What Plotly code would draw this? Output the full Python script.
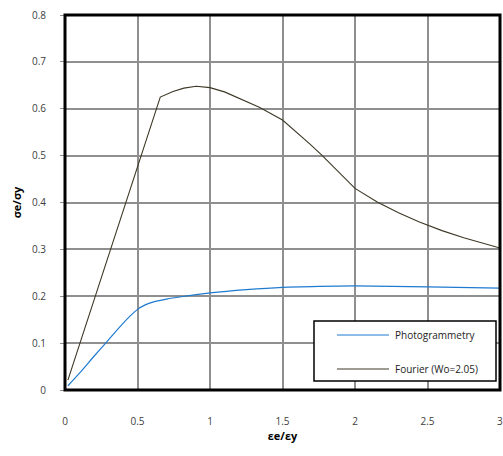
import plotly.graph_objects as go

# Normalised strain (εe/εy) and stress (σe/σy) readings for each method
photo_x = [0.02, 0.1, 0.2, 0.3, 0.4, 0.45, 0.5, 0.55, 0.6, 0.7, 0.8, 1.0, 1.25, 1.5, 1.75, 2.0, 2.5, 3.0]
photo_y = [0.009, 0.036, 0.072, 0.107, 0.142, 0.158, 0.172, 0.181, 0.187, 0.194, 0.199, 0.207, 0.214, 0.219, 0.221, 0.222, 0.220, 0.2175]

fourier_x = [0.02, 0.657, 0.745, 0.82, 0.905, 1.0, 1.1, 1.2, 1.34, 1.5, 1.615, 1.684, 1.771, 1.89,
             2.0, 2.153, 2.3, 2.44, 2.6, 2.75, 3.0]
fourier_y = [0.021, 0.625, 0.637, 0.644, 0.648, 0.645, 0.636, 0.622, 0.603, 0.576, 0.546, 0.526, 0.501, 0.464,
             0.430, 0.401, 0.378, 0.359, 0.340, 0.325, 0.303]

series_names = ["Photogrammetry", "Fourier (Wo=2.05)"]
series_colors = ["#1f7bd1", "#3d3826"]

x_ticks = [0, 0.5, 1, 1.5, 2, 2.5, 3]
x_tick_text = ["0", "0.5", "1", "1.5", "2", "2.5", "3"]
y_ticks = [0, 0.1, 0.2, 0.3, 0.4, 0.5, 0.6, 0.7, 0.8]
y_tick_text = ["0", "0.1", "0.2", "0.3", "0.4", "0.5", "0.6", "0.7", "0.8"]

FONT = "Open Sans, Noto Sans, sans-serif"
TICK_COLOR = "#404040"

fig = go.Figure()
fig.add_trace(go.Scatter(x=photo_x, y=photo_y, mode="lines", name=series_names[0],
                         line=dict(color=series_colors[0], width=1.2, shape="spline", smoothing=0.6)))
fig.add_trace(go.Scatter(x=fourier_x, y=fourier_y, mode="lines", name=series_names[1],
                         line=dict(color=series_colors[1], width=1.1)))

fig.update_layout(
    width=503, height=456,
    margin=dict(l=65, r=3, t=15, b=66),
    paper_bgcolor="white", plot_bgcolor="white",
    showlegend=False,
    font=dict(family=FONT, size=10, color=TICK_COLOR),
)
fig.update_xaxes(
    range=[0, 3], tickvals=x_ticks[:-1], ticktext=x_tick_text[:-1],
    showgrid=True, gridcolor="#8f8f8f", gridwidth=1.6,
    zeroline=False, showline=False, ticks="",
    ticklabelstandoff=24,
    title=dict(text="<b>εe/εy</b>", font=dict(size=11, color="#000"), standoff=4),
)
fig.update_yaxes(
    range=[0, 0.8], tickvals=y_ticks, ticktext=y_tick_text,
    showgrid=True, gridcolor="#8f8f8f", gridwidth=1.6,
    zeroline=False, showline=False, ticks="outside", ticklen=4, tickcolor="#8f8f8f",
    ticklabelstandoff=12,
    title=dict(text="<b>σe/σy</b>", font=dict(size=11, color="#000"), standoff=8),
)

# The last x tick label sits on the right edge and is partly clipped by the page
fig.add_annotation(xref="x", yref="paper", x=x_ticks[-1], y=0, yshift=-31,
                   text=x_tick_text[-1], showarrow=False, xanchor="center", yanchor="middle",
                   font=dict(family=FONT, size=10, color=TICK_COLOR))

# Plot frame
fig.add_shape(type="rect", xref="paper", yref="paper", x0=0, x1=1, y0=0, y1=1,
              line=dict(color="black", width=3), layer="above")

# Boxed legend inside the plot area
W, H = 435.0, 375.0
def px(xp):
    return (xp - 65) / W
def py(yp):
    return (390 - yp) / H

fig.add_shape(type="rect", xref="paper", yref="paper",
              x0=px(314), x1=px(496), y0=py(381), y1=py(321),
              line=dict(color="black", width=1.5), fillcolor="white", layer="above")
for i, (name, color) in enumerate(zip(series_names, series_colors)):
    yy = py(335 + 34 * i)
    fig.add_shape(type="line", xref="paper", yref="paper",
                  x0=px(337), x1=px(389), y0=yy, y1=yy,
                  line=dict(color=color, width=1.2), layer="above")
    fig.add_annotation(xref="paper", yref="paper", x=px(393), y=yy, text=name,
                       showarrow=False, xanchor="left", yanchor="middle",
                       font=dict(family=FONT, size=10, color="#222"))

fig.write_html("out.html")
